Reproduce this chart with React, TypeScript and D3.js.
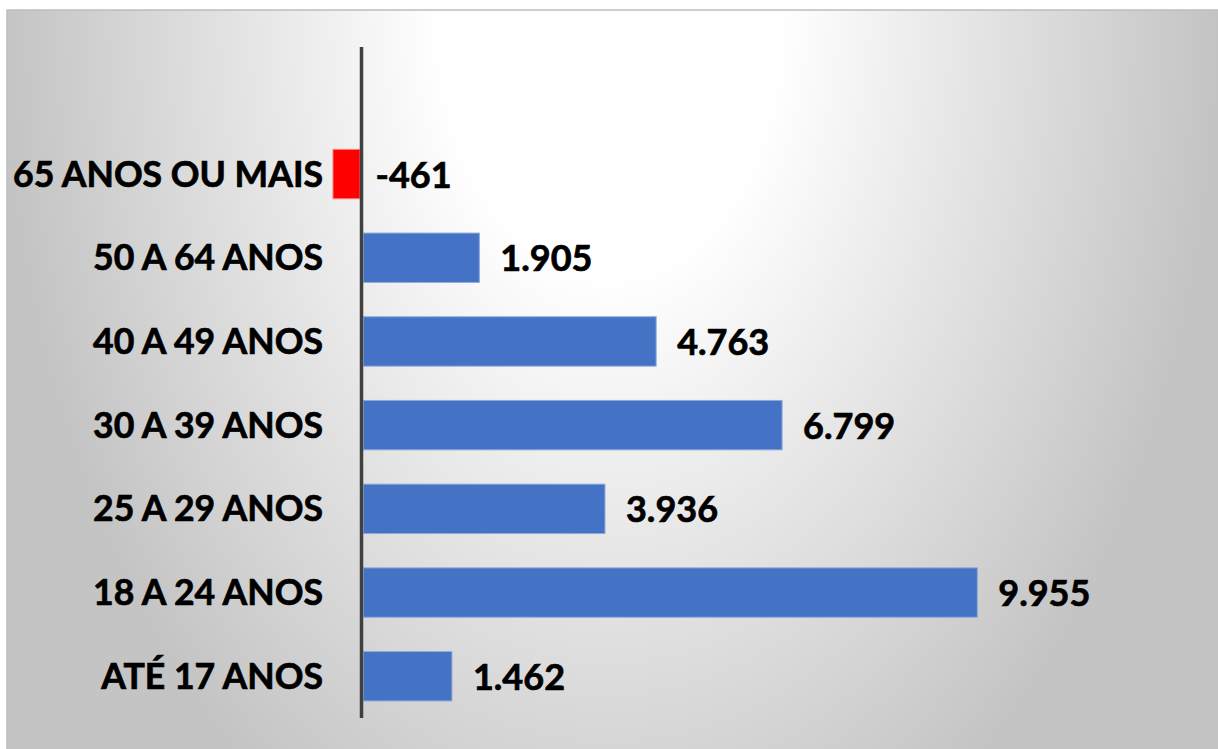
import { useEffect } from 'react';
import * as d3 from 'd3';

const categories = [
  '65 ANOS OU MAIS',
  '50 A 64 ANOS',
  '40 A 49 ANOS',
  '30 A 39 ANOS',
  '25 A 29 ANOS',
  '18 A 24 ANOS',
  'ATÉ 17 ANOS',
];
const values = [-461, 1905, 4763, 6799, 3936, 9955, 1462];
const valueLabels = ['-461', '1.905', '4.763', '6.799', '3.936', '9.955', '1.462'];

const W = 1218;
const H = 749;
const FONT = 'Lato, "Open Sans", sans-serif';

export default function App() {
  useEffect(() => {
    document.body.style.margin = '0';
  }, []);

  const x = d3.scaleLinear().domain([0, 10000]).range([361.5, 980.1]);
  const y = d3.scaleBand<string>()
    .domain(categories)
    .range([132.2, 718.1])
    .paddingInner(0.41)
    .paddingOuter(0.205);

  const bw = y.bandwidth();

  // chart area background: soft radial light from top centre
  const gcx = 610;
  const gcy = 10;

  return (
    <svg width={W} height={H} style={{ display: 'block' }}>
      <defs>
        <radialGradient
          id="bg"
          gradientUnits="userSpaceOnUse"
          cx={gcx}
          cy={gcy}
          r={605}
          gradientTransform={`translate(${gcx},${gcy}) scale(1,1.55) translate(${-gcx},${-gcy})`}
        >
          <stop offset="0" stopColor="#ffffff" />
          <stop offset="0.28" stopColor="#ffffff" />
          <stop offset="1" stopColor="#c4c4c4" />
        </radialGradient>
      </defs>
      <rect x={0} y={0} width={W} height={H} fill="#ffffff" />
      <rect x={7} y={10} width={W} height={H} fill="url(#bg)" stroke="#bdbdbd" strokeWidth={1.5} />

      {/* bars */}
      {categories.map((c, i) => {
        const v = values[i];
        const neg = v < 0;
        const x0 = neg ? x(v) : x(0) + 2;
        const x1 = neg ? x(0) - 1.5 : x(v);
        return (
          <rect
            key={c}
            x={x0}
            y={y(c)!}
            width={x1 - x0}
            height={bw}
            fill={neg ? '#ff0000' : '#4472c4'}
            stroke={neg ? '#ff7f7f' : '#8eaadb'}
            strokeWidth={1}
          />
        );
      })}

      {/* zero axis */}
      <line x1={x(0)} x2={x(0)} y1={47} y2={718} stroke="#404040" strokeWidth={3.5} />

      {/* category labels */}
      {categories.map((c) => (
        <text
          key={c}
          x={323}
          y={y(c)! + bw / 2 + 12.5}
          textAnchor="end"
          fontFamily={FONT}
          fontWeight={700}
          fontSize={35.6}
          fill="#000"
          stroke="#000"
          strokeWidth={0.7}
        >
          {c}
        </text>
      ))}

      {/* value labels */}
      {categories.map((c, i) => {
        const v = values[i];
        const lx = v < 0 ? x(0) + 14 : x(v) + 21;
        return (
          <text
            key={c}
            x={lx}
            y={y(c)! + bw / 2 + 13.5}
            fontFamily={FONT}
            fontWeight={700}
            fontSize={36}
            fill="#000"
            stroke="#000"
            strokeWidth={0.7}
          >
            {valueLabels[i]}
          </text>
        );
      })}
    </svg>
  );
}
